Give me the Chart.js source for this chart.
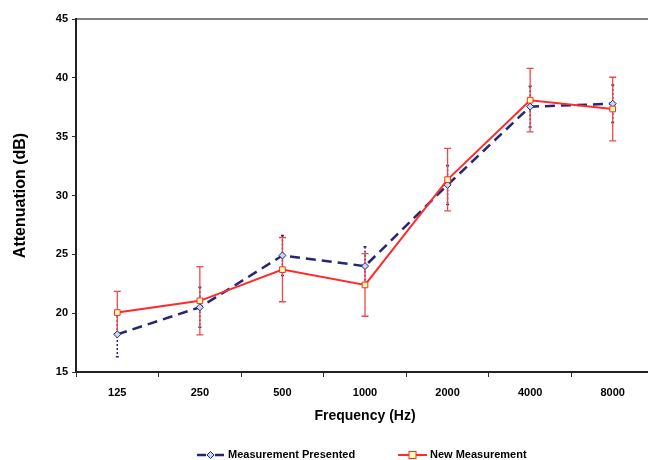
<!DOCTYPE html>
<html>
<head>
<meta charset="utf-8">
<script src="https://cdn.jsdelivr.net/npm/chart.js@4"></script>
<style>
html,body{margin:0;padding:0;background:#fff;overflow:hidden;width:648px;height:460px;}
canvas{display:block;}
</style>
</head>
<body>
<canvas id="c" width="659" height="460"></canvas>
<script>
const categories = ['125','250','500','1000','2000','4000','8000'];
const presented = [18.2, 20.5, 24.9, 24.0, 30.9, 37.55, 37.8];
const presentedErr = [1.9, 1.7, 1.7, 1.65, 1.66, 1.73, 1.6];
const newMeasurement = [20.05, 21.05, 23.7, 22.4, 31.35, 38.1, 37.35];
const newMeasurementErr = [1.8, 2.9, 2.73, 2.66, 2.65, 2.7, 2.7];
const yTicks = [15, 20, 25, 30, 35, 40, 45];

const NAVY = '#262673';
const RED = '#ff2a2a';
const FONT = 'Liberation Sans, Arial, sans-serif';

const errorBars = {
  id: 'errorBars',
  beforeDatasetsDraw(chart) {
    const ctx = chart.ctx;
    const y = chart.scales.y;
    const sets = [
      {i: 0, vals: presented, errs: presentedErr, color: NAVY, dash: [2, 2], cap: 3, lw: 1.5},
      {i: 1, vals: newMeasurement, errs: newMeasurementErr, color: '#f04848', dash: [], cap: 7, lw: 1.3}
    ];
    sets.forEach(s => {
      const meta = chart.getDatasetMeta(s.i);
      meta.data.forEach((pt, k) => {
        const x = pt.x;
        const top = y.getPixelForValue(s.vals[k] + s.errs[k]);
        const bot = y.getPixelForValue(s.vals[k] - s.errs[k]);
        ctx.save();
        ctx.strokeStyle = s.color;
        ctx.lineWidth = s.lw;
        ctx.setLineDash(s.dash);
        ctx.beginPath();
        ctx.moveTo(x, top); ctx.lineTo(x, bot);
        ctx.stroke();
        ctx.setLineDash([]);
        ctx.beginPath();
        ctx.moveTo(x - s.cap / 2, top); ctx.lineTo(x + s.cap / 2, top);
        ctx.moveTo(x - s.cap / 2, bot); ctx.lineTo(x + s.cap / 2, bot);
        ctx.stroke();
        ctx.restore();
      });
    });
  }
};

const frame = {
  id: 'frame',
  beforeDraw(chart) {
    const {ctx, chartArea: a} = chart;
    ctx.save();
    ctx.strokeStyle = '#808080';
    ctx.lineWidth = 2;
    ctx.beginPath();
    ctx.moveTo(a.left, a.top);
    ctx.lineTo(a.right, a.top);
    ctx.lineTo(a.right, a.bottom);
    ctx.stroke();
    ctx.restore();
  }
};

const legendPlugin = {
  id: 'customLegend',
  afterDraw(chart) {
    const ctx = chart.ctx;
    const yc = 455;
    ctx.save();
    ctx.font = 'bold 11px ' + FONT;
    ctx.fillStyle = '#000';
    ctx.textBaseline = 'middle';
    ctx.strokeStyle = NAVY;
    ctx.lineWidth = 2.5;
    ctx.beginPath();
    ctx.moveTo(197, yc); ctx.lineTo(206, yc);
    ctx.moveTo(215, yc); ctx.lineTo(224, yc);
    ctx.stroke();
    ctx.fillStyle = '#c8daf0';
    ctx.lineWidth = 1;
    ctx.beginPath();
    ctx.moveTo(210.5, yc - 3.5); ctx.lineTo(214, yc); ctx.lineTo(210.5, yc + 3.5); ctx.lineTo(207, yc); ctx.closePath();
    ctx.fill(); ctx.stroke();
    ctx.fillStyle = '#000';
    ctx.fillText('Measurement Presented', 228, yc);
    ctx.strokeStyle = RED;
    ctx.lineWidth = 2;
    ctx.beginPath();
    ctx.moveTo(398, yc); ctx.lineTo(427, yc);
    ctx.stroke();
    ctx.fillStyle = '#ffffb0';
    ctx.lineWidth = 1;
    ctx.fillRect(409, yc - 3.5, 7, 7);
    ctx.strokeRect(409, yc - 3.5, 7, 7);
    ctx.fillStyle = '#000';
    ctx.fillText('New Measurement', 430, yc);
    ctx.restore();
  }
};

new Chart(document.getElementById('c'), {
  type: 'line',
  data: {
    labels: categories,
    datasets: [
      {
        label: 'Measurement Presented',
        data: presented,
        borderColor: NAVY,
        borderWidth: 2.5,
        borderDash: [10, 6],
        pointStyle: 'rectRot',
        pointRadius: 3.5,
        pointBackgroundColor: '#c8daf0',
        pointBorderColor: NAVY,
        pointBorderWidth: 1,
        tension: 0,
        order: 2
      },
      {
        label: 'New Measurement',
        data: newMeasurement,
        borderColor: RED,
        borderWidth: 2,
        pointStyle: 'rect',
        pointRadius: 4,
        pointBackgroundColor: '#ffffb0',
        pointBorderColor: RED,
        pointBorderWidth: 1,
        tension: 0,
        order: 1
      }
    ]
  },
  options: {
    responsive: false,
    animation: false,
    devicePixelRatio: 1,
    layout: {padding: {top: 19, right: 2, left: 0, bottom: 0}},
    plugins: {legend: {display: false}, tooltip: {enabled: false}},
    scales: {
      x: {
        type: 'category',
        offset: true,
        grid: {offset: true, drawOnChartArea: false, drawTicks: true, tickLength: 5, color: '#333', lineWidth: 1},
        border: {display: true, color: '#222', width: 2},
        ticks: {color: '#000', font: {family: FONT, size: 11, weight: 'bold'}, padding: 9, maxRotation: 0},
        title: {display: true, text: 'Frequency (Hz)', color: '#000', font: {family: FONT, size: 14, weight: 'bold'}, padding: {top: 0, bottom: 35}},
        afterFit(scale) { scale.height = 88; }
      },
      y: {
        min: 15, max: 45,
        afterBuildTicks(scale) { scale.ticks = yTicks.map(v => ({value: v})); },
        grid: {drawOnChartArea: false, drawTicks: true, tickLength: 4, color: '#333', lineWidth: 1},
        border: {display: true, color: '#222', width: 2},
        ticks: {color: '#000', font: {family: FONT, size: 11, weight: 'bold'}, padding: 4},
        title: {display: true, text: 'Attenuation (dB)', color: '#000', font: {family: FONT, size: 16, weight: 'bold'}, padding: {top: 11, bottom: 0}},
        afterFit(scale) { scale.width = 76; }
      }
    }
  },
  plugins: [frame, errorBars, legendPlugin]
});
</script>
</body>
</html>
